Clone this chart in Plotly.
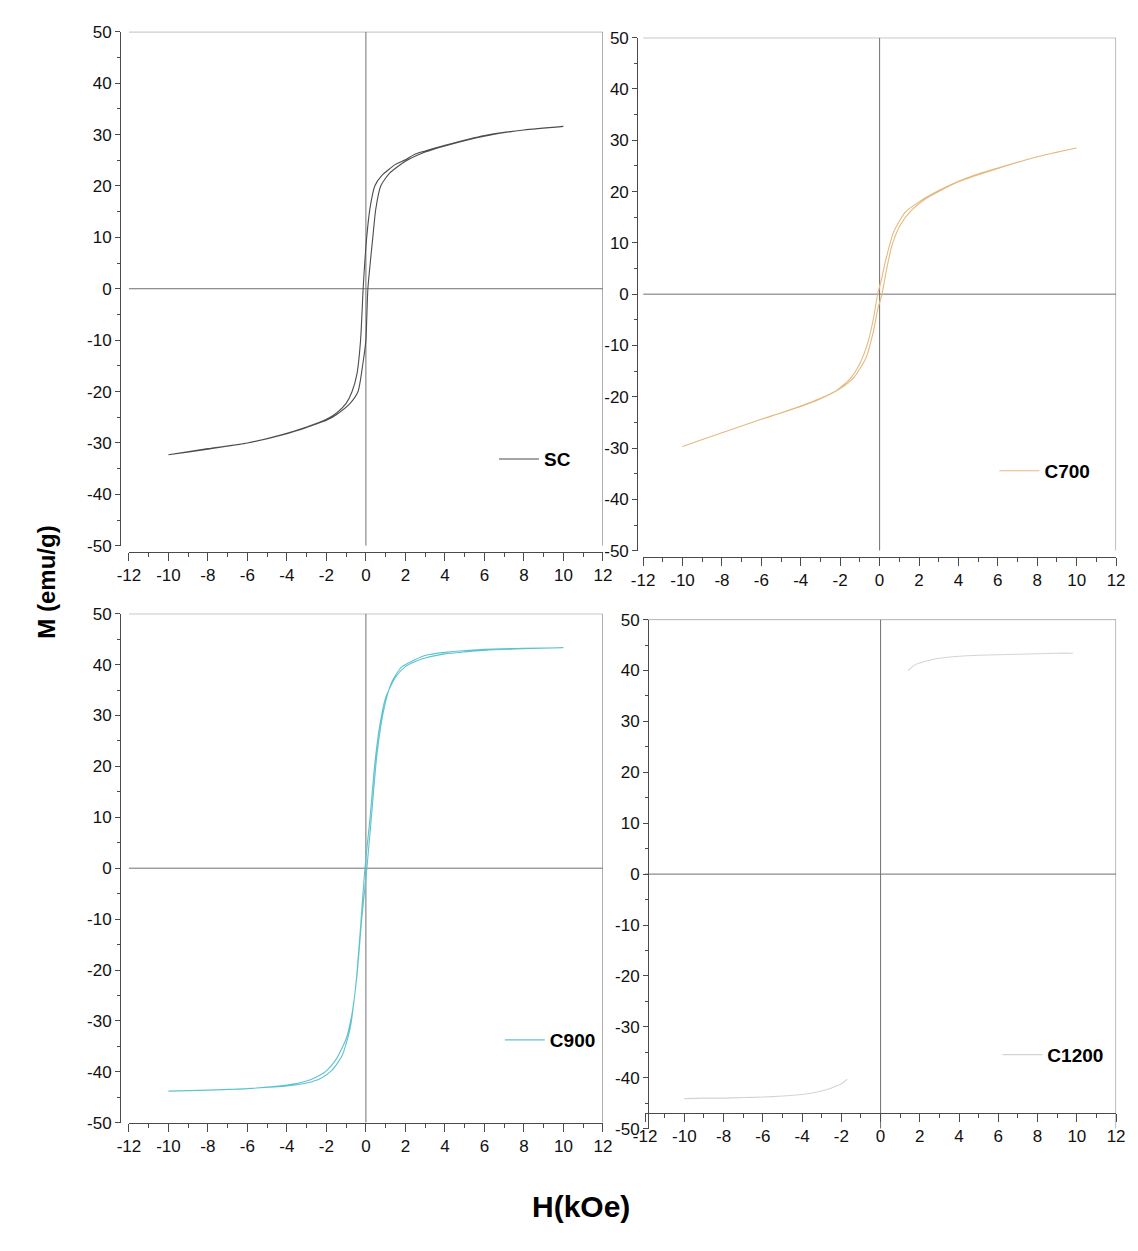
import plotly.graph_objects as go

PAGE_W, PAGE_H = 1138, 1251
BODY = 8                      # default page margin of the html body
FW, FH = PAGE_W - 2 * BODY, PAGE_H - 2 * BODY

# ---------------- data ----------------
# SC : descending branch (H from +10 to -10) and ascending branch (-10 to +10)
sc_h_desc = [10, 8, 6, 4, 3, 2.5, 2, 1.5, 0.8, 0.45, 0.2, 0.04, -0.06, -0.14, -0.27, -0.45, -0.7, -1.0, -1.5, -2, -3, -4, -6, -8, -10]
sc_m_desc = [31.6, 30.9, 29.8, 27.9, 26.8, 26.2, 25.1, 24.2, 22.0, 20.0, 15.5, 10.0, 5.0, 0.0, -10.0, -16.5, -20.0, -22.3, -24.2, -25.4, -26.9, -28.1, -30.0, -31.1, -32.3]
sc_h_asc = [-10, -8, -6, -4, -3, -2.5, -2, -1.5, -0.8, -0.4, -0.15, 0.0, 0.05, 0.1, 0.35, 0.5, 0.75, 1.2, 2, 3, 4, 6, 8, 10]
sc_m_asc = [-32.3, -31.2, -30.0, -28.2, -27.0, -26.3, -25.6, -24.5, -22.3, -20.0, -14.5, -10.0, -5.0, 0.0, 10.0, 15.5, 20.0, 22.5, 24.8, 26.6, 27.8, 29.7, 30.9, 31.6]

# C700
c7_h_desc = [10, 8, 6, 4.8, 4, 3, 2, 1.3, 0.7, 0.3, 0.1, -0.1, -0.3, -0.6, -1.0, -1.5, -2.2, -3, -4, -6, -8, -10]
c7_m_desc = [28.5, 26.8, 24.6, 23.2, 22.0, 20.2, 18.0, 16.0, 12.0, 6.5, 3.0, 0.0, -4.5, -9.5, -13.5, -16.5, -18.8, -20.3, -21.8, -24.4, -27.0, -29.7]
c7_h_asc = [-10, -8, -6, -4, -3, -2, -1.3, -0.7, -0.3, -0.1, 0.12, 0.35, 0.65, 1.05, 1.6, 2.3, 3, 4, 6, 8, 10]
c7_m_asc = [-29.7, -27.0, -24.4, -21.9, -20.4, -18.4, -16.2, -12.5, -7.0, -3.0, 0.0, 4.8, 9.8, 13.5, 16.3, 18.5, 20.0, 21.9, 24.5, 26.8, 28.5]

# C900
c9_h_desc = [10, 8, 6, 5, 4, 3, 2.5, 2, 1.5, 1, 0.7, 0.45, 0.2, -0.05, -0.25, -0.5, -0.8, -1.2, -1.7, -2.3, -3, -4, -6, -8, -10]
c9_m_desc = [43.3, 43.1, 42.8, 42.5, 42.1, 41.3, 40.6, 39.6, 37.5, 33.5, 28.0, 20.5, 9.5, 0.0, -10.5, -22.5, -31.5, -36.8, -39.6, -41.3, -42.2, -42.8, -43.3, -43.6, -43.8]
c9_h_asc = [-10, -8, -6, -4, -3, -2.5, -2, -1.5, -1, -0.7, -0.45, -0.2, 0.05, 0.3, 0.55, 0.9, 1.3, 1.8, 2.5, 3, 4, 6, 8, 10]
c9_m_asc = [-43.8, -43.6, -43.3, -42.6, -41.8, -41.0, -39.8, -37.5, -33.5, -28.5, -21.0, -9.5, 0.0, 11.0, 22.0, 31.0, 36.5, 39.5, 41.0, 41.8, 42.4, 43.0, 43.2, 43.3]

# C1200 (only the parts that remain visible in the scan)
c12_h_hi = [1.4, 1.8, 2.5, 3, 4, 5, 6, 7, 8, 9, 9.8]
c12_m_hi = [40.0, 41.2, 42.0, 42.4, 42.8, 43.0, 43.1, 43.2, 43.3, 43.4, 43.4]
c12_h_lo = [-10, -9, -8, -7, -6, -5, -4, -3, -2.5, -2, -1.7]
c12_m_lo = [-44.1, -44.0, -44.0, -43.9, -43.8, -43.6, -43.3, -42.6, -42.0, -41.2, -40.3]

samples = ["SC", "C700", "C900", "C1200"]
colors = ["#4d4d4d", "#e4b97f", "#5fc3cf", "#d4d4d4"]

x_ticks = [-12, -10, -8, -6, -4, -2, 0, 2, 4, 6, 8, 10, 12]
y_ticks = [-50, -40, -30, -20, -10, 0, 10, 20, 30, 40, 50]
x_range = [-12, 12]
y_range = [-50, 50]
x_title = "H(kOe)"
y_title = "M (emu/g)"

# ---------------- layout geometry (page pixels) ----------------
def fx(p):
    return (p - BODY) / FW

def fy(p):
    return 1 - (p - BODY) / FH

# x0, x1 (H=-12..12), yt, yb (M=50..-50), y-axis x pos, x-axis y pos
panels = [
    dict(x0=119, x1=602, yt=23, yb=545, ya=110, xa=551),
    dict(x0=643, x1=1125, yt=29, yb=550, ya=637, xa=556),
    dict(x0=119, x1=602, yt=614, yb=1131, ya=110, xa=1131),
    dict(x0=645, x1=1125, yt=620, yb=1137, ya=648, xa=1121),
]
legend_pos = [(491, 457), (1001, 469), (497, 1047), (1004, 1062)]

fig = go.Figure()

loops = [
    (sc_h_desc + sc_h_asc, sc_m_desc + sc_m_asc),
    (c7_h_desc + c7_h_asc, c7_m_desc + c7_m_asc),
    (c9_h_desc + c9_h_asc, c9_m_desc + c9_m_asc),
    (c12_h_hi + [None] + c12_h_lo, c12_m_hi + [None] + c12_m_lo),
]

tick_font = dict(family="Liberation Sans Narrow, Arial Narrow, Liberation Sans", size=17, color="#111111")
axis_col = "#4a4a4a"

for i, (p, (hx, my)) in enumerate(zip(panels, loops)):
    n = "" if i == 0 else str(i + 1)
    xa = "x" + n
    ya = "y" + n
    lg = "legend" + n
    fig.add_trace(go.Scatter(
        x=hx, y=my, mode="lines", name=samples[i],
        line=dict(color=colors[i], width=1.1, shape="spline", smoothing=0.6),
        xaxis=xa, yaxis=ya, legend=lg, connectgaps=False,
    ))
    fig.layout["xaxis" + n] = dict(
        domain=[fx(p["x0"]), fx(p["x1"])], range=x_range, anchor="free",
        position=fy(p["xa"]), tickmode="array", tickvals=x_ticks,
        ticktext=[str(v) for v in x_ticks],
        showline=True, linecolor=axis_col, linewidth=1,
        ticks="outside", ticklen=8, tickcolor=axis_col, tickwidth=1,
        minor=dict(dtick=1, tick0=0, ticks="outside", ticklen=4, tickcolor=axis_col),
        showgrid=False, zeroline=False, tickfont=tick_font,
    )
    fig.layout["yaxis" + n] = dict(
        domain=[fy(p["yb"]), fy(p["yt"])], range=y_range, anchor="free",
        position=fx(p["ya"]), tickmode="array", tickvals=y_ticks,
        ticktext=[str(v) for v in y_ticks],
        showline=True, linecolor=axis_col, linewidth=1,
        ticks="outside", ticklen=5, tickcolor=axis_col, tickwidth=1,
        minor=dict(dtick=5, tick0=0, ticks="outside", ticklen=3, tickcolor=axis_col),
        showgrid=False, zeroline=False, tickfont=tick_font,
    )
    # frame (top + right) and zero lines
    lc = dict(color="#707070", width=1)
    fig.add_shape(type="line", xref=xa, yref=ya, x0=x_range[0], x1=x_range[1], y0=y_range[1], y1=y_range[1], line=lc, layer="below")
    fig.add_shape(type="line", xref=xa, yref=ya, x0=x_range[1], x1=x_range[1], y0=y_range[0], y1=y_range[1], line=lc, layer="below")
    fig.add_shape(type="line", xref=xa, yref=ya, x0=x_range[0], x1=x_range[1], y0=0, y1=0, line=lc, layer="below")
    fig.add_shape(type="line", xref=xa, yref=ya, x0=0, x1=0, y0=y_range[0], y1=y_range[1], line=lc, layer="below")
    lx, ly = legend_pos[i]
    fig.layout[lg] = dict(
        x=fx(lx), y=fy(ly), xanchor="left", yanchor="middle",
        bgcolor="rgba(0,0,0,0)", borderwidth=0, itemwidth=40,
        font=dict(family="Liberation Sans Narrow, Arial Narrow, Liberation Sans", size=19, color="#000000", weight="bold"),
    )

fig.add_annotation(
    text=y_title, xref="paper", yref="paper", x=fx(35), y=fy(582),
    xanchor="center", yanchor="middle",
    showarrow=False, textangle=-90,
    font=dict(family="Liberation Sans, Arial", size=24, color="#000000", weight="bold"),
)
fig.add_annotation(
    text=x_title, xref="paper", yref="paper", x=fx(580), y=fy(1216),
    xanchor="center", yanchor="middle",
    showarrow=False,
    font=dict(family="Liberation Sans Narrow, Arial Narrow, Liberation Sans", size=30, color="#000000", weight="bold"),
)

fig.update_layout(
    width=FW, height=FH, autosize=False,
    margin=dict(l=0, r=0, t=0, b=0),
    paper_bgcolor="white", plot_bgcolor="white",
    showlegend=True,
)

fig.write_html("out.html")
